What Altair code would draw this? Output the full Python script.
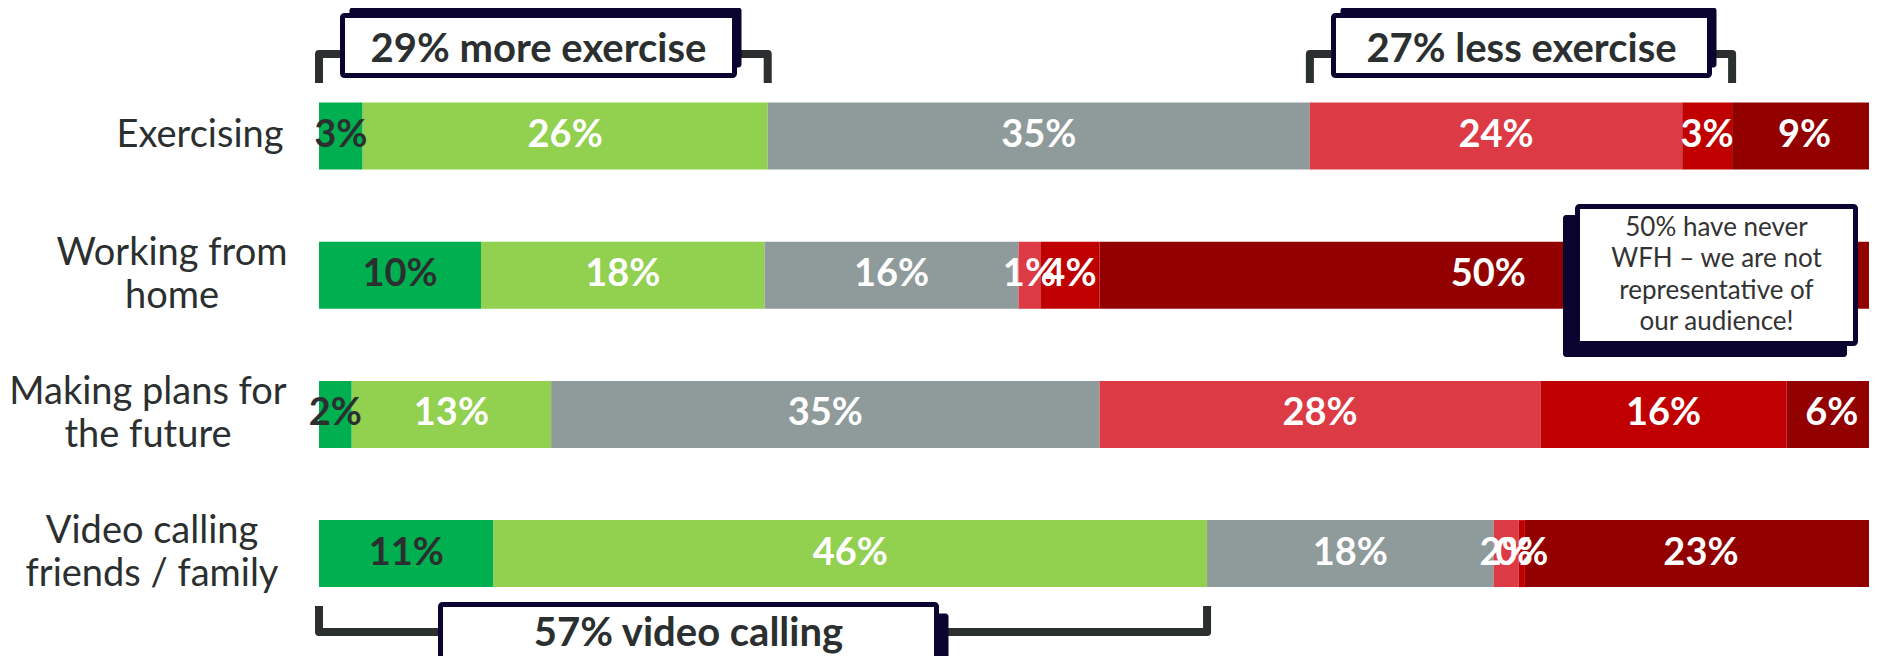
import altair as alt
import pandas as pd

# ---------------- data ----------------
categories = ["Exercising", "Working from home",
              "Making plans for the future", "Video calling friends / family"]
category_text = ["Exercising", "Working from\nhome",
                 "Making plans for\nthe future", "Video calling\nfriends / family"]
segments = ["Much more", "A bit more", "About the same", "A bit less", "Much less", "Never"]

much_more = [2.8, 10.4, 2.1, 11.2]
bit_more = [26.0, 18.2, 12.8, 45.8]
same = [34.8, 16.3, 35.2, 18.4]
bit_less = [23.9, 1.4, 28.3, 1.6]
much_less = [3.2, 3.8, 15.8, 0.4]
never = [9.3, 49.9, 5.8, 22.6]
series = [much_more, bit_more, same, bit_less, much_less, never]

# brackets: (row, first segment, last segment, caption)
brackets = [(0, 0, 1, "more exercise"), (0, 3, 4, "less exercise"), (3, 0, 1, "video calling")]
note_lines = ["50% have never", "WFH \u2013 we are not", "representative of", "our audience!"]

# ---------------- styles / layout ----------------
seg_colors = ["#00b050", "#92d050", "#8f9a9a", "#dc3a44", "#c00000", "#920000"]
DARK = "#2b2f2f"
NAVY = "#0b0330"
W, H = 1861, 648
xscale = alt.Scale(domain=[0, 100], range=[311, 1869])
yscale = alt.Scale(domain=categories, range=[58.4, 615.2], paddingInner=0.5187, paddingOuter=0.2593)
label_center = [192, 164, 140, 144]
LABEL_LH = 43
bracket_y = [(75, 46), (75, 46), (598, 624)]          # (leg end, bend)
box_xy = [(334.5, 726.5, 7.5, 67.5), (1325.5, 1701.5, 7.5, 67.5), (432.5, 928.5, 596.5, 652.5)]
shadow_off = [(7, -8), (7, -8), (12, 9)]
text_base = [54, 54, 638]
note_box = (1569.5, 1847.5, 198.5, 335.5)
note_shadow = (1555, 1839, 207, 349)
NOTE_LH = 31.5

# ---------------- tables ----------------
rows = []
for i, cat in enumerate(categories):
    start = 0.0
    for s, ser in zip(segments, series):
        v = ser[i]
        rows.append(dict(category=cat, segment=s, start=start, end=start + v,
                         mid=start + v / 2, label=f"{round(v)}%", rv=round(v)))
        start += v
df = pd.DataFrame(rows)

lab_df = pd.DataFrame({"category": categories, "text": category_text, "lx": label_center})
lab_df["nlines"] = lab_df["text"].str.count("\n") + 1

line_rows, box_rows, shadow_rows, btext_rows = [], [], [], []
for b, (r, s0, s1, cap) in enumerate(brackets):
    sub = df[df.category == categories[r]].reset_index(drop=True)
    x0 = sub.loc[s0, "start"]
    x1 = sub.loc[s1, "end"]
    pct = int(sub.loc[s0:s1, "rv"].sum())
    leg, bend = bracket_y[b]
    for k, (xx, yy) in enumerate([(x0, leg), (x0, bend), (x1, bend), (x1, leg)]):
        line_rows.append(dict(b=b, k=k, x=xx, y=yy))
    bx0, bx1, by0, by1 = box_xy[b]
    dx, dy = shadow_off[b]
    box_rows.append(dict(x=bx0, x2=bx1, y=by0, y2=by1))
    shadow_rows.append(dict(x=bx0 + dx, x2=bx1 + dx, y=by0 + dy, y2=by1 + dy))
    btext_rows.append(dict(t=f"{pct}% {cap}", x=(bx0 + bx1) / 2, y=text_base[b]))
box_rows.append(dict(x=note_box[0], x2=note_box[1], y=note_box[2], y2=note_box[3]))
shadow_rows.append(dict(x=note_shadow[0], x2=note_shadow[1], y=note_shadow[2], y2=note_shadow[3]))

line_df = pd.DataFrame(line_rows)
box_df = pd.DataFrame(box_rows)
shadow_df = pd.DataFrame(shadow_rows)
btext_df = pd.DataFrame(btext_rows)
n_note = len(note_lines)
note_df = pd.DataFrame({"t": ["\n".join(note_lines)],
                        "x": [(note_box[0] + note_box[1]) / 2],
                        "y": [(note_box[2] + note_box[3]) / 2 - (n_note - 1) * NOTE_LH / 2]})

# ---------------- layers ----------------
bars = alt.Chart(df).mark_bar().encode(
    x=alt.X("start:Q", scale=xscale, axis=None),
    x2="end:Q",
    y=alt.Y("category:N", scale=yscale, sort=categories, axis=None),
    color=alt.Color("segment:N", scale=alt.Scale(domain=segments, range=seg_colors), legend=None),
)

values = alt.Chart(df).mark_text(font="Lato", fontWeight="bold", fontSize=38,
                                 align="center", baseline="middle").encode(
    x=alt.X("mid:Q", scale=xscale, axis=None),
    y=alt.Y("category:N", scale=yscale, sort=categories, axis=None),
    text="label:N",
    color=alt.condition(alt.datum.segment == segments[0], alt.value(DARK), alt.value("white")),
)


def cat_layer(n):
    return alt.Chart(lab_df).transform_filter(alt.datum.nlines == n).mark_text(
        font="Lato", fontSize=38, align="center", baseline="middle", lineBreak="\n",
        lineHeight=LABEL_LH, color=DARK, dy=-(n - 1) * LABEL_LH / 2).encode(
        x=alt.X("lx:Q", scale=None, axis=None),
        y=alt.Y("category:N", scale=yscale, sort=categories, axis=None),
        text="text:N",
    )


cat_labels1 = cat_layer(1)
cat_labels2 = cat_layer(2)

bracket_lines = alt.Chart(line_df).mark_line(color=DARK, strokeWidth=8,
                                             strokeJoin="round", strokeCap="butt").encode(
    x=alt.X("x:Q", scale=xscale, axis=None),
    y=alt.Y("y:Q", scale=None, axis=None),
    detail="b:N",
    order="k:Q",
)

shadows = alt.Chart(shadow_df).mark_rect(color=NAVY, cornerRadius=3).encode(
    x=alt.X("x:Q", scale=None, axis=None), x2="x2:Q",
    y=alt.Y("y:Q", scale=None, axis=None), y2="y2:Q",
)

boxes = alt.Chart(box_df).mark_rect(fill="white", stroke=NAVY, strokeWidth=5, cornerRadius=2).encode(
    x=alt.X("x:Q", scale=None, axis=None), x2="x2:Q",
    y=alt.Y("y:Q", scale=None, axis=None), y2="y2:Q",
)

box_text = alt.Chart(btext_df).mark_text(font="Lato", fontWeight="bold", fontSize=40,
                                         align="center", baseline="alphabetic", color=DARK).encode(
    x=alt.X("x:Q", scale=None, axis=None),
    y=alt.Y("y:Q", scale=None, axis=None),
    text="t:N",
)

note_text = alt.Chart(note_df).mark_text(font="Lato", fontSize=26, align="center",
                                         baseline="middle", lineBreak="\n",
                                         lineHeight=NOTE_LH, color="#333333").encode(
    x=alt.X("x:Q", scale=None, axis=None),
    y=alt.Y("y:Q", scale=None, axis=None),
    text="t:N",
)

chart = alt.layer(
    bars, values, cat_labels1, cat_labels2, bracket_lines, shadows, boxes, box_text, note_text
).resolve_scale(
    x="independent", y="independent", color="independent"
).properties(
    width=W, height=H, padding=0,
    autosize=alt.AutoSizeParams(type="none"),
    background="white",
).configure_view(stroke=None)

chart.save("out.html", embed_options={"renderer": "svg", "actions": False})
